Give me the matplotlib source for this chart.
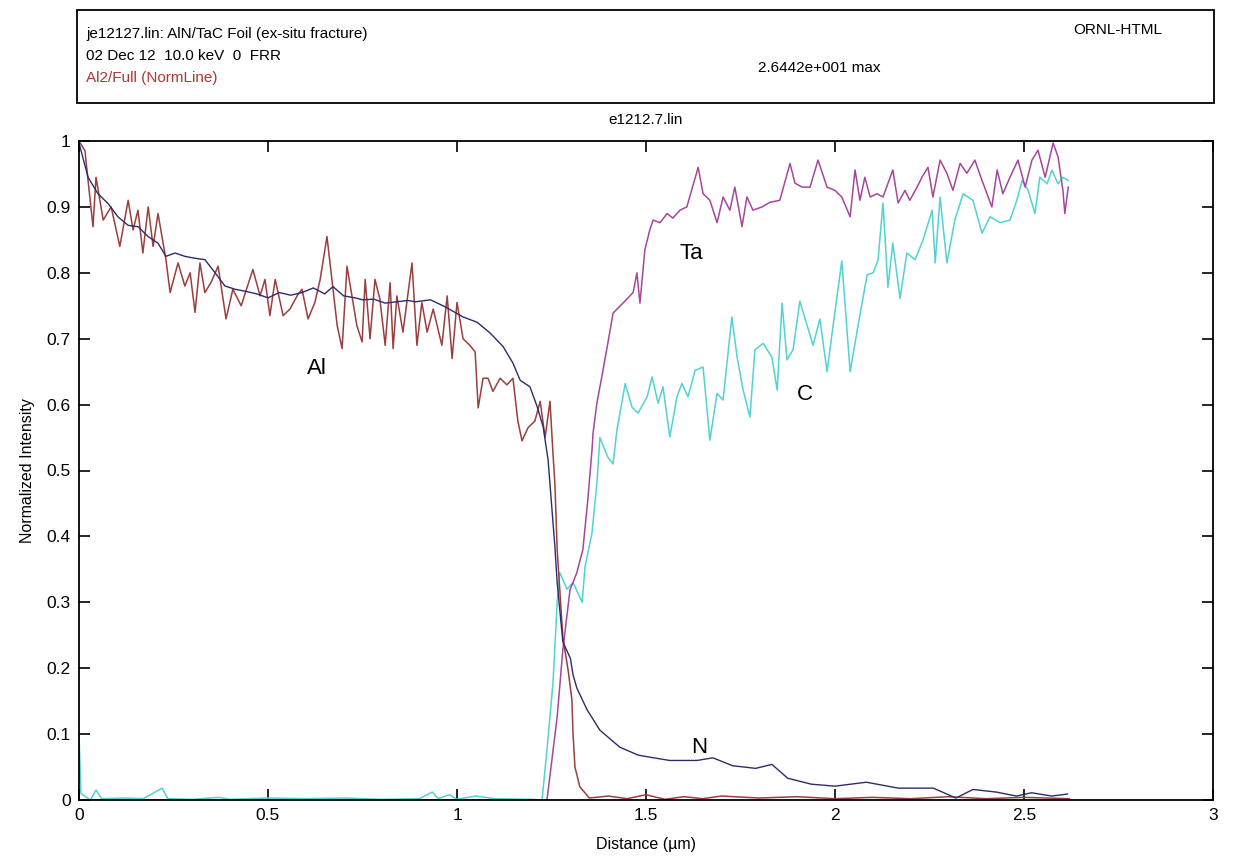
import numpy as np
import matplotlib
matplotlib.use("Agg")
import matplotlib.pyplot as plt
from matplotlib.patches import Rectangle

plt.rcParams['font.family'] = ['Liberation Sans', 'DejaVu Sans']

# ---- line scan data (distance in um, normalized intensity) ----
al_x = [0.0, 0.016, 0.019, 0.037, 0.045, 0.064, 0.085, 0.108, 0.13, 0.143, 0.156, 0.169,
        0.183, 0.196, 0.209, 0.23, 0.241, 0.262, 0.28, 0.294, 0.307, 0.32, 0.333, 0.349,
        0.368, 0.389, 0.407, 0.429, 0.46, 0.479, 0.492, 0.505, 0.519, 0.54, 0.558, 0.577,
        0.59, 0.606, 0.624, 0.638, 0.656, 0.669, 0.683, 0.696, 0.709, 0.722, 0.735, 0.749,
        0.757, 0.77, 0.783, 0.796, 0.81, 0.823, 0.831, 0.841, 0.857, 0.881, 0.894, 0.907,
        0.921, 0.937, 0.96, 0.974, 0.987, 1.0, 1.016, 1.034, 1.048, 1.056, 1.069, 1.082,
        1.095, 1.114, 1.132, 1.148, 1.161, 1.172, 1.188, 1.206, 1.22, 1.233, 1.246, 1.254,
        1.259, 1.265, 1.28, 1.294, 1.304, 1.307, 1.312, 1.325, 1.35, 1.4, 1.45, 1.5, 1.55,
        1.6, 1.65, 1.7, 1.8, 1.9, 2.0, 2.1, 2.2, 2.3, 2.4, 2.5, 2.62]
al_y = [1.0, 0.985, 0.967, 0.87, 0.945, 0.88, 0.9, 0.84, 0.91, 0.865, 0.895, 0.83,
        0.9, 0.84, 0.89, 0.82, 0.77, 0.815, 0.78, 0.8, 0.74, 0.815, 0.77, 0.785,
        0.81, 0.73, 0.775, 0.75, 0.805, 0.765, 0.79, 0.735, 0.79, 0.735, 0.745, 0.765,
        0.775, 0.73, 0.755, 0.79, 0.855, 0.79, 0.72, 0.685, 0.81, 0.765, 0.72, 0.695,
        0.79, 0.7, 0.79, 0.76, 0.69, 0.785, 0.685, 0.765, 0.71, 0.815, 0.69, 0.755,
        0.71, 0.745, 0.69, 0.765, 0.67, 0.755, 0.7, 0.69, 0.68, 0.595, 0.64, 0.64,
        0.62, 0.64, 0.63, 0.64, 0.575, 0.545, 0.565, 0.575, 0.605, 0.55, 0.605, 0.525,
        0.48, 0.38, 0.247, 0.197, 0.152, 0.1, 0.05, 0.02, 0.003, 0.006, 0.002, 0.008, 0.001,
        0.005, 0.002, 0.006, 0.003, 0.005, 0.002, 0.004, 0.002, 0.005, 0.002, 0.004, 0.002]

n_x = [0.0, 0.024, 0.05, 0.077, 0.103, 0.13, 0.156, 0.183, 0.209, 0.23, 0.254, 0.28,
       0.307, 0.333, 0.36, 0.386, 0.413, 0.44, 0.47, 0.5, 0.53, 0.56, 0.59, 0.62, 0.65,
       0.672, 0.7, 0.73, 0.751, 0.78, 0.81, 0.84, 0.87, 0.89, 0.93, 0.97, 1.016, 1.053,
       1.087, 1.122, 1.148, 1.167, 1.193, 1.212, 1.228, 1.241, 1.259, 1.265, 1.28, 1.3,
       1.307, 1.317, 1.344, 1.378, 1.431, 1.48, 1.5, 1.5625, 1.635, 1.677, 1.729, 1.79,
       1.833, 1.875, 1.9375, 2.0, 2.083, 2.167, 2.26, 2.32, 2.365, 2.427, 2.48, 2.52,
       2.573, 2.615]
n_y = [0.997, 0.945, 0.92, 0.905, 0.885, 0.872, 0.87, 0.855, 0.845, 0.825, 0.83, 0.825,
       0.822, 0.82, 0.8, 0.78, 0.775, 0.772, 0.768, 0.762, 0.77, 0.766, 0.77, 0.777, 0.768,
       0.779, 0.765, 0.762, 0.759, 0.76, 0.754, 0.756, 0.758, 0.756, 0.759, 0.748, 0.733, 0.725,
       0.709, 0.688, 0.663, 0.637, 0.627, 0.597, 0.566, 0.516, 0.384, 0.33, 0.24, 0.215,
       0.19, 0.17, 0.137, 0.106, 0.08, 0.068, 0.066, 0.06, 0.06, 0.064, 0.052, 0.048,
       0.054, 0.033, 0.024, 0.021, 0.027, 0.018, 0.018, 0.003, 0.016, 0.012, 0.006, 0.011,
       0.006, 0.009]

ta_x = [0.0, 1.22, 1.238, 1.265, 1.28, 1.299, 1.317, 1.333, 1.346, 1.357, 1.36, 1.37,
        1.383, 1.399, 1.413, 1.439, 1.466, 1.476, 1.484, 1.497, 1.51, 1.519, 1.537, 1.556,
        1.571, 1.59, 1.608, 1.638, 1.651, 1.669, 1.688, 1.704, 1.722, 1.735, 1.754, 1.767,
        1.783, 1.807, 1.828, 1.854, 1.881, 1.894, 1.913, 1.934, 1.955, 1.979, 2.0, 2.018,
        2.04, 2.053, 2.066, 2.079, 2.093, 2.111, 2.127, 2.153, 2.167, 2.185, 2.198, 2.217,
        2.23, 2.246, 2.259, 2.278, 2.296, 2.312, 2.331, 2.349, 2.37, 2.389, 2.415, 2.429,
        2.444, 2.463, 2.484, 2.503, 2.521, 2.537, 2.556, 2.577, 2.59, 2.603, 2.608, 2.617]
ta_y = [0.0, 0.0, 0.0, 0.126, 0.228, 0.319, 0.345, 0.38, 0.455, 0.53, 0.557, 0.602,
        0.642, 0.693, 0.739, 0.754, 0.77, 0.8, 0.754, 0.835, 0.865, 0.88, 0.876, 0.89,
        0.883, 0.895, 0.9, 0.96, 0.92, 0.91, 0.876, 0.915, 0.895, 0.93, 0.87, 0.915,
        0.895, 0.9, 0.907, 0.91, 0.966, 0.936, 0.93, 0.93, 0.971, 0.93, 0.925, 0.915,
        0.885, 0.956, 0.91, 0.945, 0.915, 0.92, 0.915, 0.956, 0.906, 0.925, 0.91, 0.93,
        0.945, 0.96, 0.915, 0.971, 0.951, 0.925, 0.966, 0.951, 0.971, 0.94, 0.9, 0.956,
        0.92, 0.945, 0.971, 0.93, 0.971, 0.986, 0.945, 0.997, 0.976, 0.925, 0.89, 0.93]

c_x = [0.0, 0.005, 0.03, 0.045, 0.06, 0.12, 0.17, 0.22, 0.235, 0.3, 0.37, 0.4, 0.5,
       0.6, 0.7, 0.8, 0.9, 0.935, 0.95, 0.98, 1.0, 1.05, 1.1, 1.2, 1.225, 1.238, 1.254,
       1.265, 1.272, 1.291, 1.307, 1.331, 1.339, 1.357, 1.37, 1.378, 1.399, 1.413, 1.423,
       1.445, 1.463, 1.479, 1.503, 1.516, 1.532, 1.545, 1.563, 1.582, 1.595, 1.611, 1.63,
       1.651, 1.669, 1.688, 1.704, 1.727, 1.741, 1.757, 1.775, 1.788, 1.81, 1.833, 1.847,
       1.86, 1.873, 1.889, 1.907, 1.942, 1.96, 1.979, 1.995, 2.018, 2.04, 2.061, 2.085,
       2.101, 2.114, 2.127, 2.14, 2.153, 2.172, 2.19, 2.212, 2.233, 2.257, 2.265, 2.278,
       2.296, 2.317, 2.339, 2.365, 2.389, 2.41, 2.437, 2.463, 2.481, 2.495, 2.511, 2.529,
       2.542, 2.561, 2.574, 2.59, 2.603, 2.617]
c_y = [0.1, 0.01, 0.0, 0.015, 0.002, 0.003, 0.002, 0.018, 0.002, 0.001, 0.004, 0.001, 0.003,
       0.002, 0.003, 0.001, 0.002, 0.012, 0.002, 0.008, 0.001, 0.006, 0.002, 0.001, 0.0, 0.076, 0.178,
       0.3, 0.345, 0.32, 0.33, 0.3, 0.355, 0.405, 0.48, 0.55, 0.52, 0.51, 0.561,
       0.632, 0.596, 0.587, 0.612, 0.642, 0.602, 0.627, 0.551, 0.612, 0.632, 0.612, 0.652,
       0.657, 0.546, 0.617, 0.607, 0.733, 0.672, 0.622, 0.581, 0.683, 0.693, 0.672, 0.622,
       0.754, 0.668, 0.683, 0.757, 0.69, 0.73, 0.65, 0.72, 0.818, 0.65, 0.72, 0.797,
       0.8, 0.82, 0.906, 0.778, 0.845, 0.761, 0.83, 0.82, 0.85, 0.895, 0.815, 0.915,
       0.815, 0.88, 0.92, 0.91, 0.86, 0.885, 0.876, 0.88, 0.91, 0.94, 0.925, 0.89,
       0.945, 0.935, 0.956, 0.935, 0.945, 0.94]

x_ticks = [0, 0.5, 1, 1.5, 2, 2.5, 3]
x_tick_labels = ["0", "0.5", "1", "1.5", "2", "2.5", "3"]
y_ticks = [0, 0.1, 0.2, 0.3, 0.4, 0.5, 0.6, 0.7, 0.8, 0.9, 1]
y_tick_labels = ["0", "0.1", "0.2", "0.3", "0.4", "0.5", "0.6", "0.7", "0.8", "0.9", "1"]

W, H = 1238, 857
fig = plt.figure(figsize=(W / 100, H / 100), dpi=100)
ax = fig.add_axes([79 / W, 1 - 800 / H, (1213 - 79) / W, (800 - 141) / H])

ax.plot(c_x, c_y, color="#52d2d2", lw=1.1)
ax.plot(ta_x, ta_y, color="#a4479c", lw=1.1)
ax.plot(al_x, al_y, color="#9a3e3e", lw=1.1)
ax.plot(n_x, n_y, color="#2c2c6c", lw=1.0)

ax.set_xlim(0, 3)
ax.set_ylim(0, 1)
ax.set_xticks(x_ticks)
ax.set_xticklabels(x_tick_labels)
ax.set_yticks(y_ticks)
ax.set_yticklabels(y_tick_labels)
ax.tick_params(direction="in", length=8, width=1.2, labelsize=12.5,
               top=True, right=True, pad=6)
for s in ax.spines.values():
    s.set_linewidth(1.3)

ax.set_xlabel("Distance (\u00b5m)", fontsize=11.5, labelpad=10)
ax.set_ylabel("Normalized Intensity", fontsize=11.5, labelpad=8)

# element labels
ax.text(0.63, 0.655, "Al", fontsize=16, ha="center", va="center")
ax.text(1.62, 0.83, "Ta", fontsize=16, ha="center", va="center")
ax.text(1.92, 0.615, "C", fontsize=16, ha="center", va="center")
ax.text(1.64, 0.08, "N", fontsize=16, ha="center", va="center")

fig.text(646 / W, 1 - 120 / H, "e1212.7.lin", fontsize=11, ha="center", va="center")

# header box
fig.patches.append(Rectangle((77 / W, 1 - 103 / H), (1214 - 77) / W, 93 / H,
                             transform=fig.transFigure, fill=False, lw=1.3,
                             edgecolor="black"))
fig.text(86 / W, 1 - 34 / H, "je12127.lin: AlN/TaC Foil (ex-situ fracture)",
         fontsize=11, va="center")
fig.text(86 / W, 1 - 56 / H, "02 Dec 12  10.0 keV  0  FRR", fontsize=11, va="center")
fig.text(86 / W, 1 - 78 / H, "Al2/Full (NormLine)", fontsize=11, va="center",
         color="#b03535")
fig.text(1073 / W, 1 - 30 / H, "ORNL-HTML", fontsize=11, va="center")
fig.text(758 / W, 1 - 68 / H, "2.6442e+001 max", fontsize=11, va="center")

fig.savefig("out.png", dpi=100)
